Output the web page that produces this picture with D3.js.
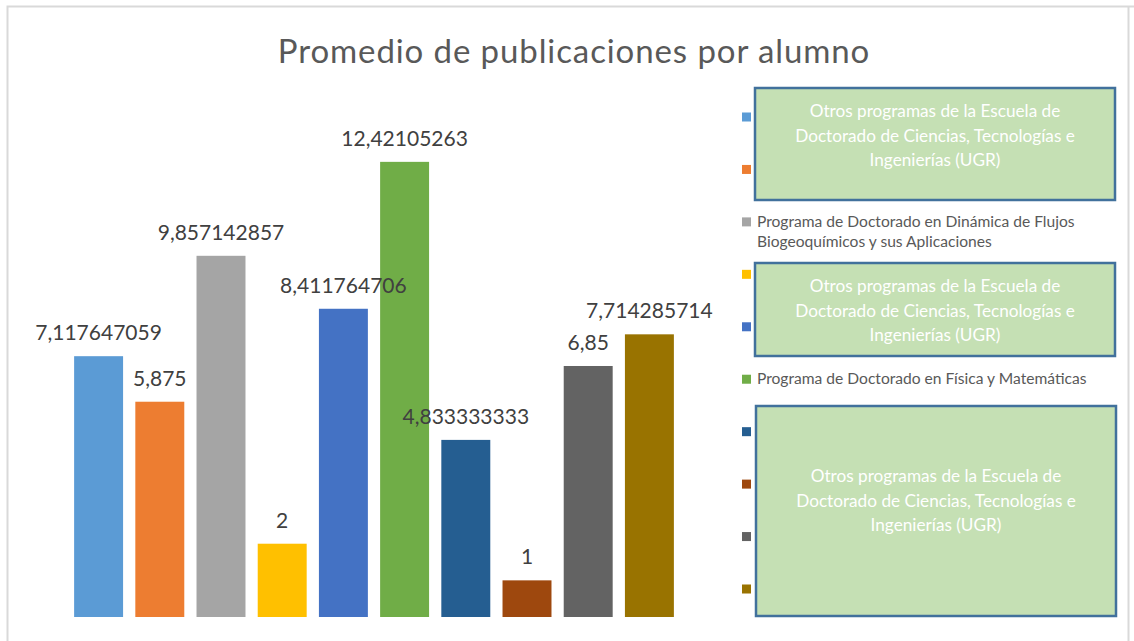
<!DOCTYPE html>
<html lang="es">
<head>
    <meta charset="UTF-8">
    <title>Promedio de publicaciones por alumno</title>
    <script src="https://d3js.org/d3.v7.min.js"></script>
    <style>
        html,
        body {
            margin: 0;
            height: 100%;
            overflow: hidden;
            background: #fff;
        }
        text { font-family: Lato, "Open Sans", sans-serif; }
    </style>
</head>
<body>
    <svg id="svg"></svg>
    <script>
        // data
        const programas = ['p1', 'p2', 'p3', 'p4', 'p5', 'p6', 'p7', 'p8', 'p9', 'p10'];
        const promedios = [7.117647059, 5.875, 9.857142857, 2, 8.411764706, 12.42105263, 4.833333333, 1, 6.85, 7.714285714];
        const colores = ['#5B9BD5', '#ED7D31', '#A5A5A5', '#FFC000', '#4472C4', '#70AD47', '#255E91', '#9E480E', '#636363', '#997300'];
        // legend texts that are visible (others are covered by the green boxes)
        const leyenda = [null, null,
            ['Programa de Doctorado en Dinámica de Flujos', 'Biogeoquímicos y sus Aplicaciones'],
            null, null,
            ['Programa de Doctorado en Física y Matemáticas'],
            null, null, null, null];
        const otros = ['Otros programas de la Escuela de', 'Doctorado de Ciencias, Tecnologías e', 'Ingenierías (UGR)'];

        const width = 1134, height = 641;
        const svg = d3.select('#svg').attr('width', width).attr('height', height);

        // chart frame
        svg.append('path')
            .attr('d', 'M7.5,641 V6.5 H1134 M1128.5,6.5 V641')
            .attr('fill', 'none')
            .attr('stroke', '#d9d9d9')
            .attr('stroke-width', 2);

        svg.append('text')
            .attr('x', 574).attr('y', 63)
            .attr('text-anchor', 'middle')
            .attr('font-size', 33)
            .attr('letter-spacing', 0.9)
            .attr('fill', '#595959')
            .text('Promedio de publicaciones por alumno');

        const x = d3.scaleBand().domain(programas).range([68, 680]).paddingInner(0.2).paddingOuter(0.1);
        const y = d3.scaleLinear().domain([0, 14]).range([617, 104]);

        const g = svg.append('g');
        g.selectAll('rect.bar').data(promedios).join('rect')
            .attr('class', 'bar')
            .attr('x', (d, i) => x(programas[i]))
            .attr('y', d => y(d))
            .attr('width', x.bandwidth())
            .attr('height', d => y(0) - y(d))
            .attr('fill', (d, i) => colores[i]);

        g.selectAll('text.val').data(promedios).join('text')
            .attr('class', 'val')
            .attr('x', (d, i) => x(programas[i]) + x.bandwidth() / 2)
            .attr('y', d => y(d) - 16)
            .attr('text-anchor', 'middle')
            .attr('font-size', 21)
            .attr('fill', '#404040')
            .text(d => String(d).replace('.', ','));

        // legend
        const ly = d3.scaleLinear().domain([0, 9]).range([117, 589]);
        const leg = svg.append('g');
        leg.selectAll('rect').data(colores).join('rect')
            .attr('x', 742).attr('y', (d, i) => ly(i) - 4.5)
            .attr('width', 9).attr('height', 9)
            .attr('fill', d => d);
        leyenda.forEach((lines, i) => {
            if (!lines) return;
            const t = leg.append('text')
                .attr('x', 757).attr('y', ly(i) + 5)
                .attr('font-size', 15.6)
                .attr('fill', '#595959');
            lines.forEach((l, k) => t.append('tspan').attr('x', 757).attr('dy', k ? 20 : 0).text(l));
        });

        // green overlay boxes
        const cajas = [
            { x0: 755, y0: 88, x1: 1115, y1: 200, ty: 111 },
            { x0: 755, y0: 263, x1: 1115, y1: 356, ty: 286 },
            { x0: 756, y0: 406, x1: 1116, y1: 616, ty: 476 }
        ];
        cajas.forEach(c => {
            svg.append('rect')
                .attr('x', c.x0).attr('y', c.y0)
                .attr('width', c.x1 - c.x0).attr('height', c.y1 - c.y0)
                .attr('fill', '#C5E0B4')
                .attr('stroke', '#41719C')
                .attr('stroke-width', 2.5);
            const t = svg.append('text')
                .attr('text-anchor', 'middle')
                .attr('font-size', 17.2)
                .attr('fill', '#fff');
            otros.forEach((l, k) => t.append('tspan')
                .attr('x', (c.x0 + c.x1) / 2)
                .attr('y', c.ty + 6 + k * 24.5)
                .text(l));
        });
    </script>
</body>
</html>
